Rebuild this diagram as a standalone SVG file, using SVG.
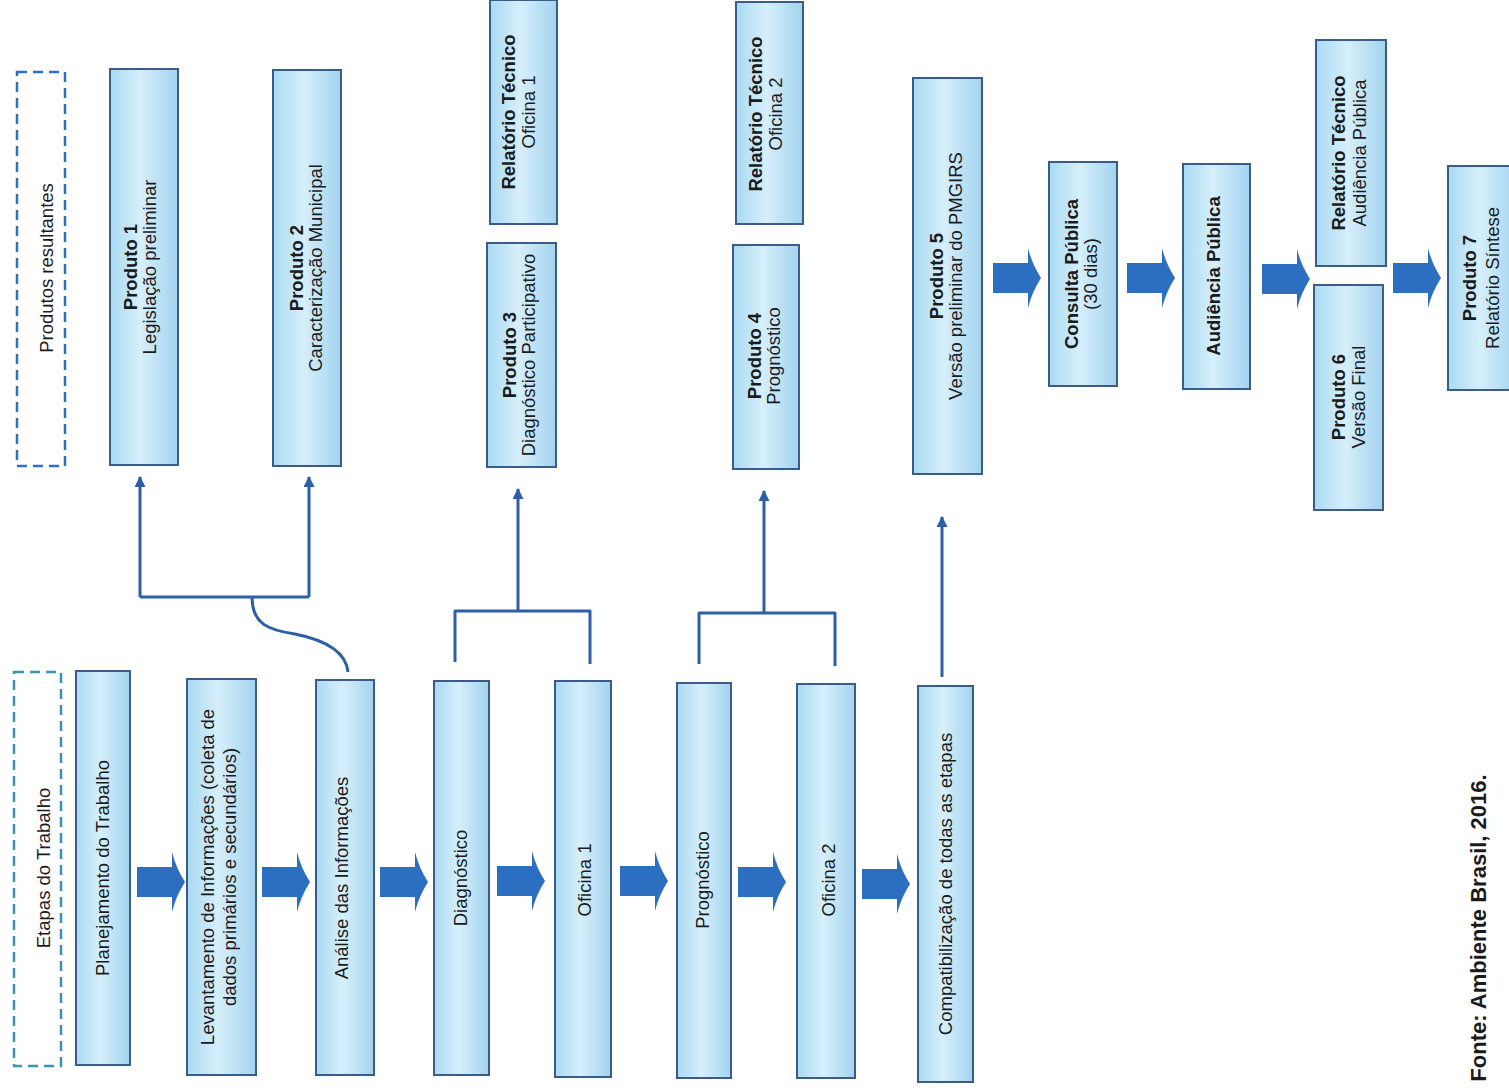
<svg xmlns="http://www.w3.org/2000/svg" width="1509" height="1091" viewBox="0 0 1509 1091">
<style>
  .box{fill:url(#bf);stroke:#3c5c88;stroke-width:2}
  text{font-family:"Liberation Sans",Arial,sans-serif;font-size:18.5px;fill:#1b1b1b;text-anchor:middle}
  .b{font-weight:bold}
  .conn{fill:none;stroke:#2c5fa6;stroke-width:3;stroke-linejoin:round}
  .blk{fill:#2c6fc0}
</style>
<defs>
  <linearGradient id="bf" x1="0" y1="0" x2="1" y2="0">
    <stop offset="0" stop-color="#a9daf2"/>
    <stop offset="0.45" stop-color="#d6effb"/>
    <stop offset="1" stop-color="#a3d3ee"/>
  </linearGradient>
  <marker id="ah" viewBox="0 0 10 10" refX="9" refY="5" markerWidth="11" markerHeight="11" markerUnits="userSpaceOnUse" orient="auto">
    <path d="M0,0 L10,5 L0,10 Z" fill="#2c5fa6"/>
  </marker>
  <path id="barrow" d="M0,-15 H35 V-30 Q39,-14 48,0 Q39,14 35,30 V15 H0 Z"/>
</defs>
<rect width="1509" height="1091" fill="#ffffff"/>

<!-- Legend boxes -->
<g id="legend-produtos">
  <rect x="17" y="72" width="48" height="394" fill="none" stroke="#2d6fc0" stroke-width="2.5" stroke-dasharray="10 6"/>
  <text transform="rotate(-90)" x="-268" y="53">Produtos resultantes</text>
</g>
<g id="legend-etapas">
  <rect x="14" y="672" width="47" height="394" fill="none" stroke="#3d93b5" stroke-width="2.5" stroke-dasharray="10 6"/>
  <text transform="rotate(-90)" x="-868" y="50">Etapas do Trabalho</text>
</g>

<!-- Product nodes -->
<g id="produto1">
  <rect class="box" x="110" y="69" width="68" height="396"/>
  <text transform="rotate(-90)"><tspan class="b" x="-267" y="137">Produto 1</tspan><tspan x="-267" y="156">Legislação preliminar</tspan></text>
</g>
<g id="produto2">
  <rect class="box" x="273" y="70" width="68" height="396"/>
  <text transform="rotate(-90)"><tspan class="b" x="-268" y="303">Produto 2</tspan><tspan x="-268" y="322">Caracterização Municipal</tspan></text>
</g>
<g id="relatorio-oficina1">
  <rect class="box" x="490" y="0" width="67" height="224"/>
  <text transform="rotate(-90)"><tspan class="b" x="-112" y="515">Relatório Técnico</tspan><tspan x="-112" y="535">Oficina 1</tspan></text>
</g>
<g id="produto3">
  <rect class="box" x="487" y="243" width="69" height="224"/>
  <text transform="rotate(-90)"><tspan class="b" x="-355" y="516">Produto 3</tspan><tspan x="-355" y="535">Diagnóstico Participativo</tspan></text>
</g>
<g id="relatorio-oficina2">
  <rect class="box" x="736" y="2" width="67" height="222"/>
  <text transform="rotate(-90)"><tspan class="b" x="-114" y="762">Relatório Técnico</tspan><tspan x="-114" y="782">Oficina 2</tspan></text>
</g>
<g id="produto4">
  <rect class="box" x="733" y="245" width="66" height="224"/>
  <text transform="rotate(-90)"><tspan class="b" x="-356" y="761">Produto 4</tspan><tspan x="-356" y="780">Prognóstico</tspan></text>
</g>
<g id="produto5">
  <rect class="box" x="913" y="78" width="69" height="396"/>
  <text transform="rotate(-90)"><tspan class="b" x="-276" y="943">Produto 5</tspan><tspan x="-276" y="962">Versão preliminar do PMGIRS</tspan></text>
</g>
<g id="consulta-publica">
  <rect class="box" x="1049" y="162" width="68" height="224"/>
  <text transform="rotate(-90)"><tspan class="b" x="-274" y="1078">Consulta Pública</tspan><tspan x="-274" y="1097">(30 dias)</tspan></text>
</g>
<g id="audiencia-publica">
  <rect class="box" x="1183" y="164" width="67" height="225"/>
  <text class="b" transform="rotate(-90)" x="-276" y="1220">Audiência Pública</text>
</g>
<g id="relatorio-audiencia">
  <rect class="box" x="1316" y="40" width="70" height="226"/>
  <text transform="rotate(-90)"><tspan class="b" x="-153" y="1345">Relatório Técnico</tspan><tspan x="-153" y="1366">Audiência Pública</tspan></text>
</g>
<g id="produto6">
  <rect class="box" x="1314" y="285" width="69" height="225"/>
  <text transform="rotate(-90)"><tspan class="b" x="-397" y="1345">Produto 6</tspan><tspan x="-397" y="1365">Versão Final</tspan></text>
</g>
<g id="produto7">
  <rect class="box" x="1448" y="166" width="70" height="224"/>
  <text transform="rotate(-90)"><tspan class="b" x="-278" y="1476">Produto 7</tspan><tspan x="-278" y="1499">Relatório Síntese</tspan></text>
</g>

<!-- Stage nodes -->
<g id="planejamento">
  <rect class="box" x="76" y="671" width="54" height="394"/>
  <text transform="rotate(-90)" x="-868" y="109">Planejamento do Trabalho</text>
</g>
<g id="levantamento">
  <rect class="box" x="187" y="679" width="69" height="396"/>
  <text transform="rotate(-90)"><tspan x="-877" y="214">Levantamento de Informações (coleta de</tspan><tspan x="-877" y="236">dados primários e secundários)</tspan></text>
</g>
<g id="analise">
  <rect class="box" x="316" y="680" width="58" height="395"/>
  <text transform="rotate(-90)" x="-878" y="348">Análise das Informações</text>
</g>
<g id="diagnostico">
  <rect class="box" x="434" y="681" width="55" height="394"/>
  <text transform="rotate(-90)" x="-878" y="467">Diagnóstico</text>
</g>
<g id="oficina1">
  <rect class="box" x="555" y="681" width="56" height="396"/>
  <text transform="rotate(-90)" x="-880" y="591">Oficina 1</text>
</g>
<g id="prognostico">
  <rect class="box" x="677" y="683" width="54" height="395"/>
  <text transform="rotate(-90)" x="-880" y="709">Prognóstico</text>
</g>
<g id="oficina2">
  <rect class="box" x="797" y="684" width="58" height="394"/>
  <text transform="rotate(-90)" x="-880" y="835">Oficina 2</text>
</g>
<g id="compatibilizacao">
  <rect class="box" x="918" y="686" width="55" height="396"/>
  <text transform="rotate(-90)" x="-884" y="952">Compatibilização de todas as etapas</text>
</g>

<!-- Connectors -->
<g id="connectors">
  <path class="conn" d="M140,597 H309"/>
  <path class="conn" d="M140,597 V477" marker-end="url(#ah)"/>
  <path class="conn" d="M309,597 V477" marker-end="url(#ah)"/>
  <path class="conn" d="M252,597 C252,624 268,630 295,634 C325,640 346,652 348,672"/>
  <path class="conn" d="M455,662 V611 H590 V664"/>
  <path class="conn" d="M518,611 V489" marker-end="url(#ah)"/>
  <path class="conn" d="M699,664 V613 H835 V666"/>
  <path class="conn" d="M764,613 V491" marker-end="url(#ah)"/>
  <path class="conn" d="M942,677 V517" marker-end="url(#ah)"/>

  <use href="#barrow" class="blk" transform="translate(137,882)"/>
  <use href="#barrow" class="blk" transform="translate(262,882)"/>
  <use href="#barrow" class="blk" transform="translate(380,882)"/>
  <use href="#barrow" class="blk" transform="translate(497,881)"/>
  <use href="#barrow" class="blk" transform="translate(620,881)"/>
  <use href="#barrow" class="blk" transform="translate(738,882)"/>
  <use href="#barrow" class="blk" transform="translate(862,884)"/>

  <use href="#barrow" class="blk" transform="translate(993,278)"/>
  <use href="#barrow" class="blk" transform="translate(1127,278)"/>
  <use href="#barrow" class="blk" transform="translate(1262,279)"/>
  <use href="#barrow" class="blk" transform="translate(1393,278)"/>
</g>

<text class="b" transform="rotate(-90)" x="-928" y="1486" style="font-size:22px">Fonte: Ambiente Brasil, 2016.</text>
</svg>
